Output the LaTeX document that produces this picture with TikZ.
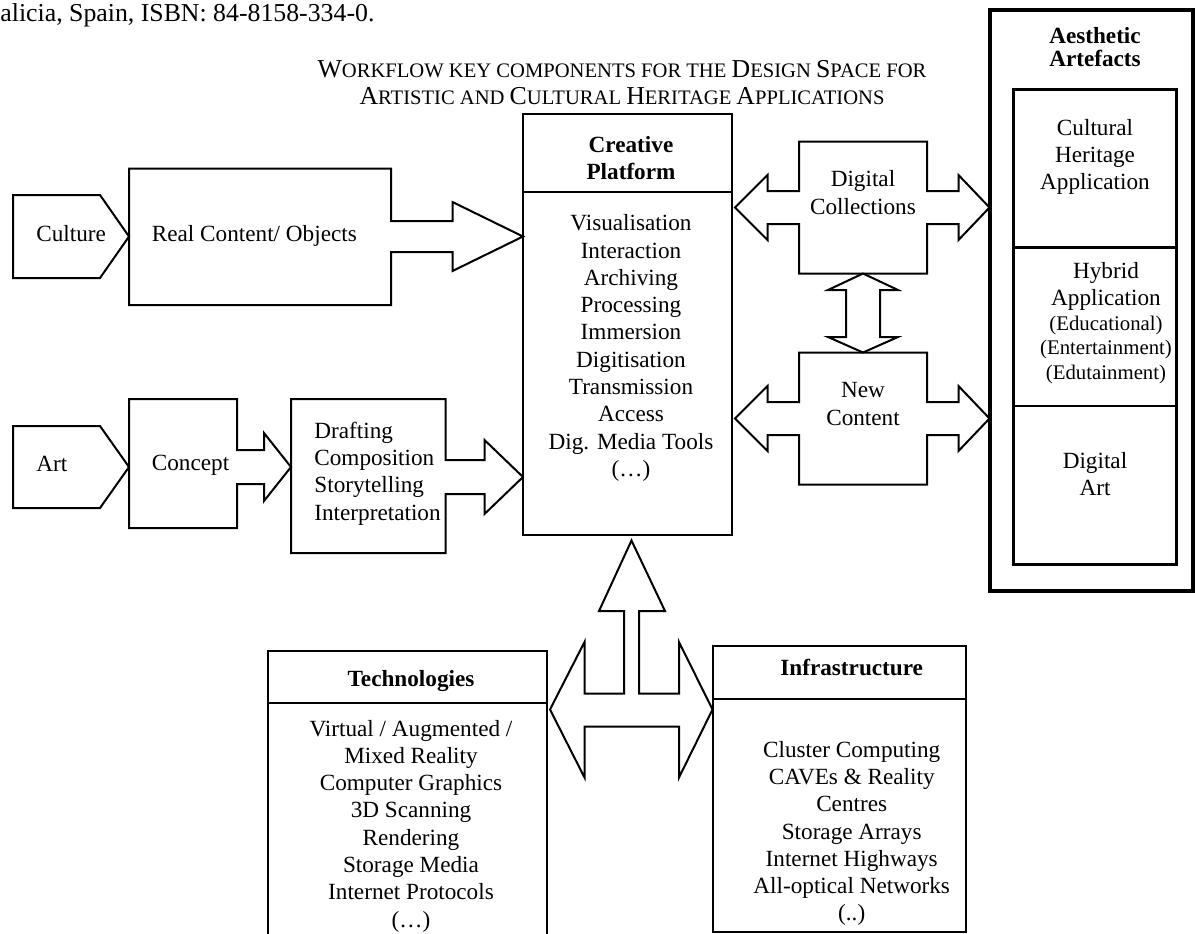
\documentclass[tikz,border=0pt]{standalone}
\usepackage{fontspec}
\setmainfont{Liberation Serif}
\usepackage{tikz}
\newcommand{\diagfont}{\fontsize{11.6}{13.65}\selectfont}
\newcommand{\headfont}{\fontsize{12.9}{15.5}\selectfont}
\newcommand{\scfont}{\fontsize{10.3}{12}\selectfont}
\newcommand{\notefont}{\fontsize{10.4}{12.2}\selectfont}
\tikzset{
  boxline/.style={draw=black,line width=1pt,line join=miter},
  heavyline/.style={draw=black,line width=2pt},
  bodytext/.style={font=\diagfont,inner sep=0pt,align=center},
  headtext/.style={font=\diagfont\bfseries,inner sep=0pt,align=center},
  pagetext/.style={font=\headfont,inner sep=0pt}
}

\begin{document}
\begin{tikzpicture}[x=0.5pt,y=-0.5pt]
  \clip (0,0) rectangle (1195,933);
  \fill[white] (0,0) rectangle (1195,933);
  \node[pagetext,anchor=base west] (source) at (0,21) {alicia, Spain, ISBN: 84-8158-334-0.};
  \node[pagetext,anchor=base] (title1) at (622,77)
    {W{\scfont ORKFLOW KEY COMPONENTS FOR THE }D{\scfont ESIGN }S{\scfont PACE FOR}};
  \node[pagetext,anchor=base] (title2) at (622,104)
    {A{\scfont RTISTIC AND }C{\scfont ULTURAL }H{\scfont ERITAGE }A{\scfont PPLICATIONS}};
  \draw[boxline] (13,195) -- (100,195) -- (129,236.5) -- (100,278) -- (13,278) -- cycle;
  \draw[boxline] (129,168.5) -- (391,168.5) -- (391,221) -- (452.5,221) -- (452.5,202)
    -- (523,236.5) -- (452.5,271) -- (452.5,252) -- (391,252) -- (391,305) -- (129,305) -- cycle;
  \draw[boxline] (13,426) -- (100,426) -- (129,467) -- (100,508) -- (13,508) -- cycle;
  \draw[boxline] (129,399) -- (237,399) -- (237,450) -- (264,450) -- (264,433)
    -- (291,467) -- (264,501) -- (264,484) -- (237,484) -- (237,528) -- (129,528) -- cycle;
  \draw[boxline] (291,399) -- (445.5,399) -- (445.5,460) -- (484.5,460) -- (484.5,440)
    -- (523,477) -- (484.5,514) -- (484.5,494) -- (445.5,494) -- (445.5,553) -- (291,553) -- cycle;
  \draw[boxline] (523,113.5) rectangle (732,535);
  \draw[boxline] (523,191.5) -- (732,191.5);
  \foreach \dy in {0,211}
    \draw[boxline,shift={(0,\dy)}] (799,141.5) -- (927,141.5) -- (927,191) -- (958.5,191)
      -- (958.5,175) -- (989.5,207.5) -- (958.5,240) -- (958.5,224) -- (927,224)
      -- (927,273.5) -- (799,273.5) -- (799,224) -- (767.5,224) -- (767.5,240)
      -- (735,207.5) -- (767.5,175) -- (767.5,191) -- (799,191) -- cycle;
  \draw[boxline] (863,273.5) -- (898,290) -- (880,290) -- (880,337) -- (898,337)
    -- (863,352.5) -- (828,337) -- (846,337) -- (846,290) -- (828,290) -- cycle;
  \draw[heavyline] (990,9.5) rectangle (1192.5,591);
  \draw[boxline,line width=1.3pt] (1013.5,89.5) rectangle (1176.5,564.5);
  \draw[boxline,line width=1.3pt] (1013.5,247.5) -- (1176.5,247.5);
  \draw[boxline,line width=1.3pt] (1013.5,406) -- (1176.5,406);
  \draw[boxline] (550,709.5) -- (584.5,642) -- (584.5,693.5) -- (624,693.5) -- (624,611)
    -- (599,611) -- (631.5,540.5) -- (665,611) -- (639,611) -- (639,693.5) -- (679,693.5)
    -- (679,642) -- (712.5,709.5) -- (679,777.5) -- (679,726.5) -- (584.5,726.5)
    -- (584.5,777.5) -- cycle;
  \draw[boxline] (267.5,651) rectangle (546.5,950);
  \draw[boxline] (267.5,702.5) -- (546.5,702.5);
  \draw[boxline] (712.5,646) rectangle (966,931.5);
  \draw[boxline] (712.5,698.5) -- (966,698.5);
  \node[bodytext,anchor=base west] (culture) at (36,241) {Culture};
  \node[bodytext,anchor=base west] (realcontent) at (151.5,241) {Real Content/ Objects};
  \node[bodytext,anchor=base west] (art) at (36,471) {Art};
  \node[bodytext,anchor=base west] (concept) at (151.5,470) {Concept};
  \node[bodytext,align=left,anchor=west] (drafting) at (314,473.5)
    {Drafting\\Composition\\Storytelling\\Interpretation};
  \node[headtext] (platformhead) at (631,158) {Creative\\Platform};
  \node[bodytext] (platformbody) at (631,348) {Visualisation\\Interaction\\Archiving\\Processing\\Immersion\\Digitisation\\Transmission\\Access\\Dig. Media Tools\\(…)};
  \node[bodytext] (collections) at (863,192.5) {Digital\\Collections};
  \node[bodytext] (newcontent) at (863,404) {New\\Content};
  \node[headtext] (artefacthead) at (1095,47) {Aesthetic\\[-2.15pt]Artefacts};
  \node[bodytext] (heritageapp) at (1095,157) {Cultural\\Heritage\\Application};
  \node[bodytext] (hybridapp) at (1106,323) {Hybrid\\Application\\[-1.4pt]{\notefont (Educational)}\\[-1.4pt]{\notefont (Entertainment)}\\[-1.4pt]{\notefont (Edutainment)}};
  \node[bodytext] (digitalart) at (1095,474) {Digital\\Art};
  \node[headtext,anchor=base] (techhead) at (411,686) {Technologies};
  \node[headtext,anchor=base] (infrahead) at (851.7,675) {Infrastructure};
  \node[bodytext] (techbody) at (411,826) {Virtual / Augmented /\\Mixed Reality\\Computer Graphics\\3D Scanning\\Rendering\\Storage Media\\Internet Protocols\\(…)};
  \node[bodytext] (infrabody) at (851.7,833.5) {Cluster Computing\\CAVEs \& Reality\\Centres\\Storage Arrays\\Internet Highways\\All-optical Networks\\(..)};
\end{tikzpicture}
\end{document}
